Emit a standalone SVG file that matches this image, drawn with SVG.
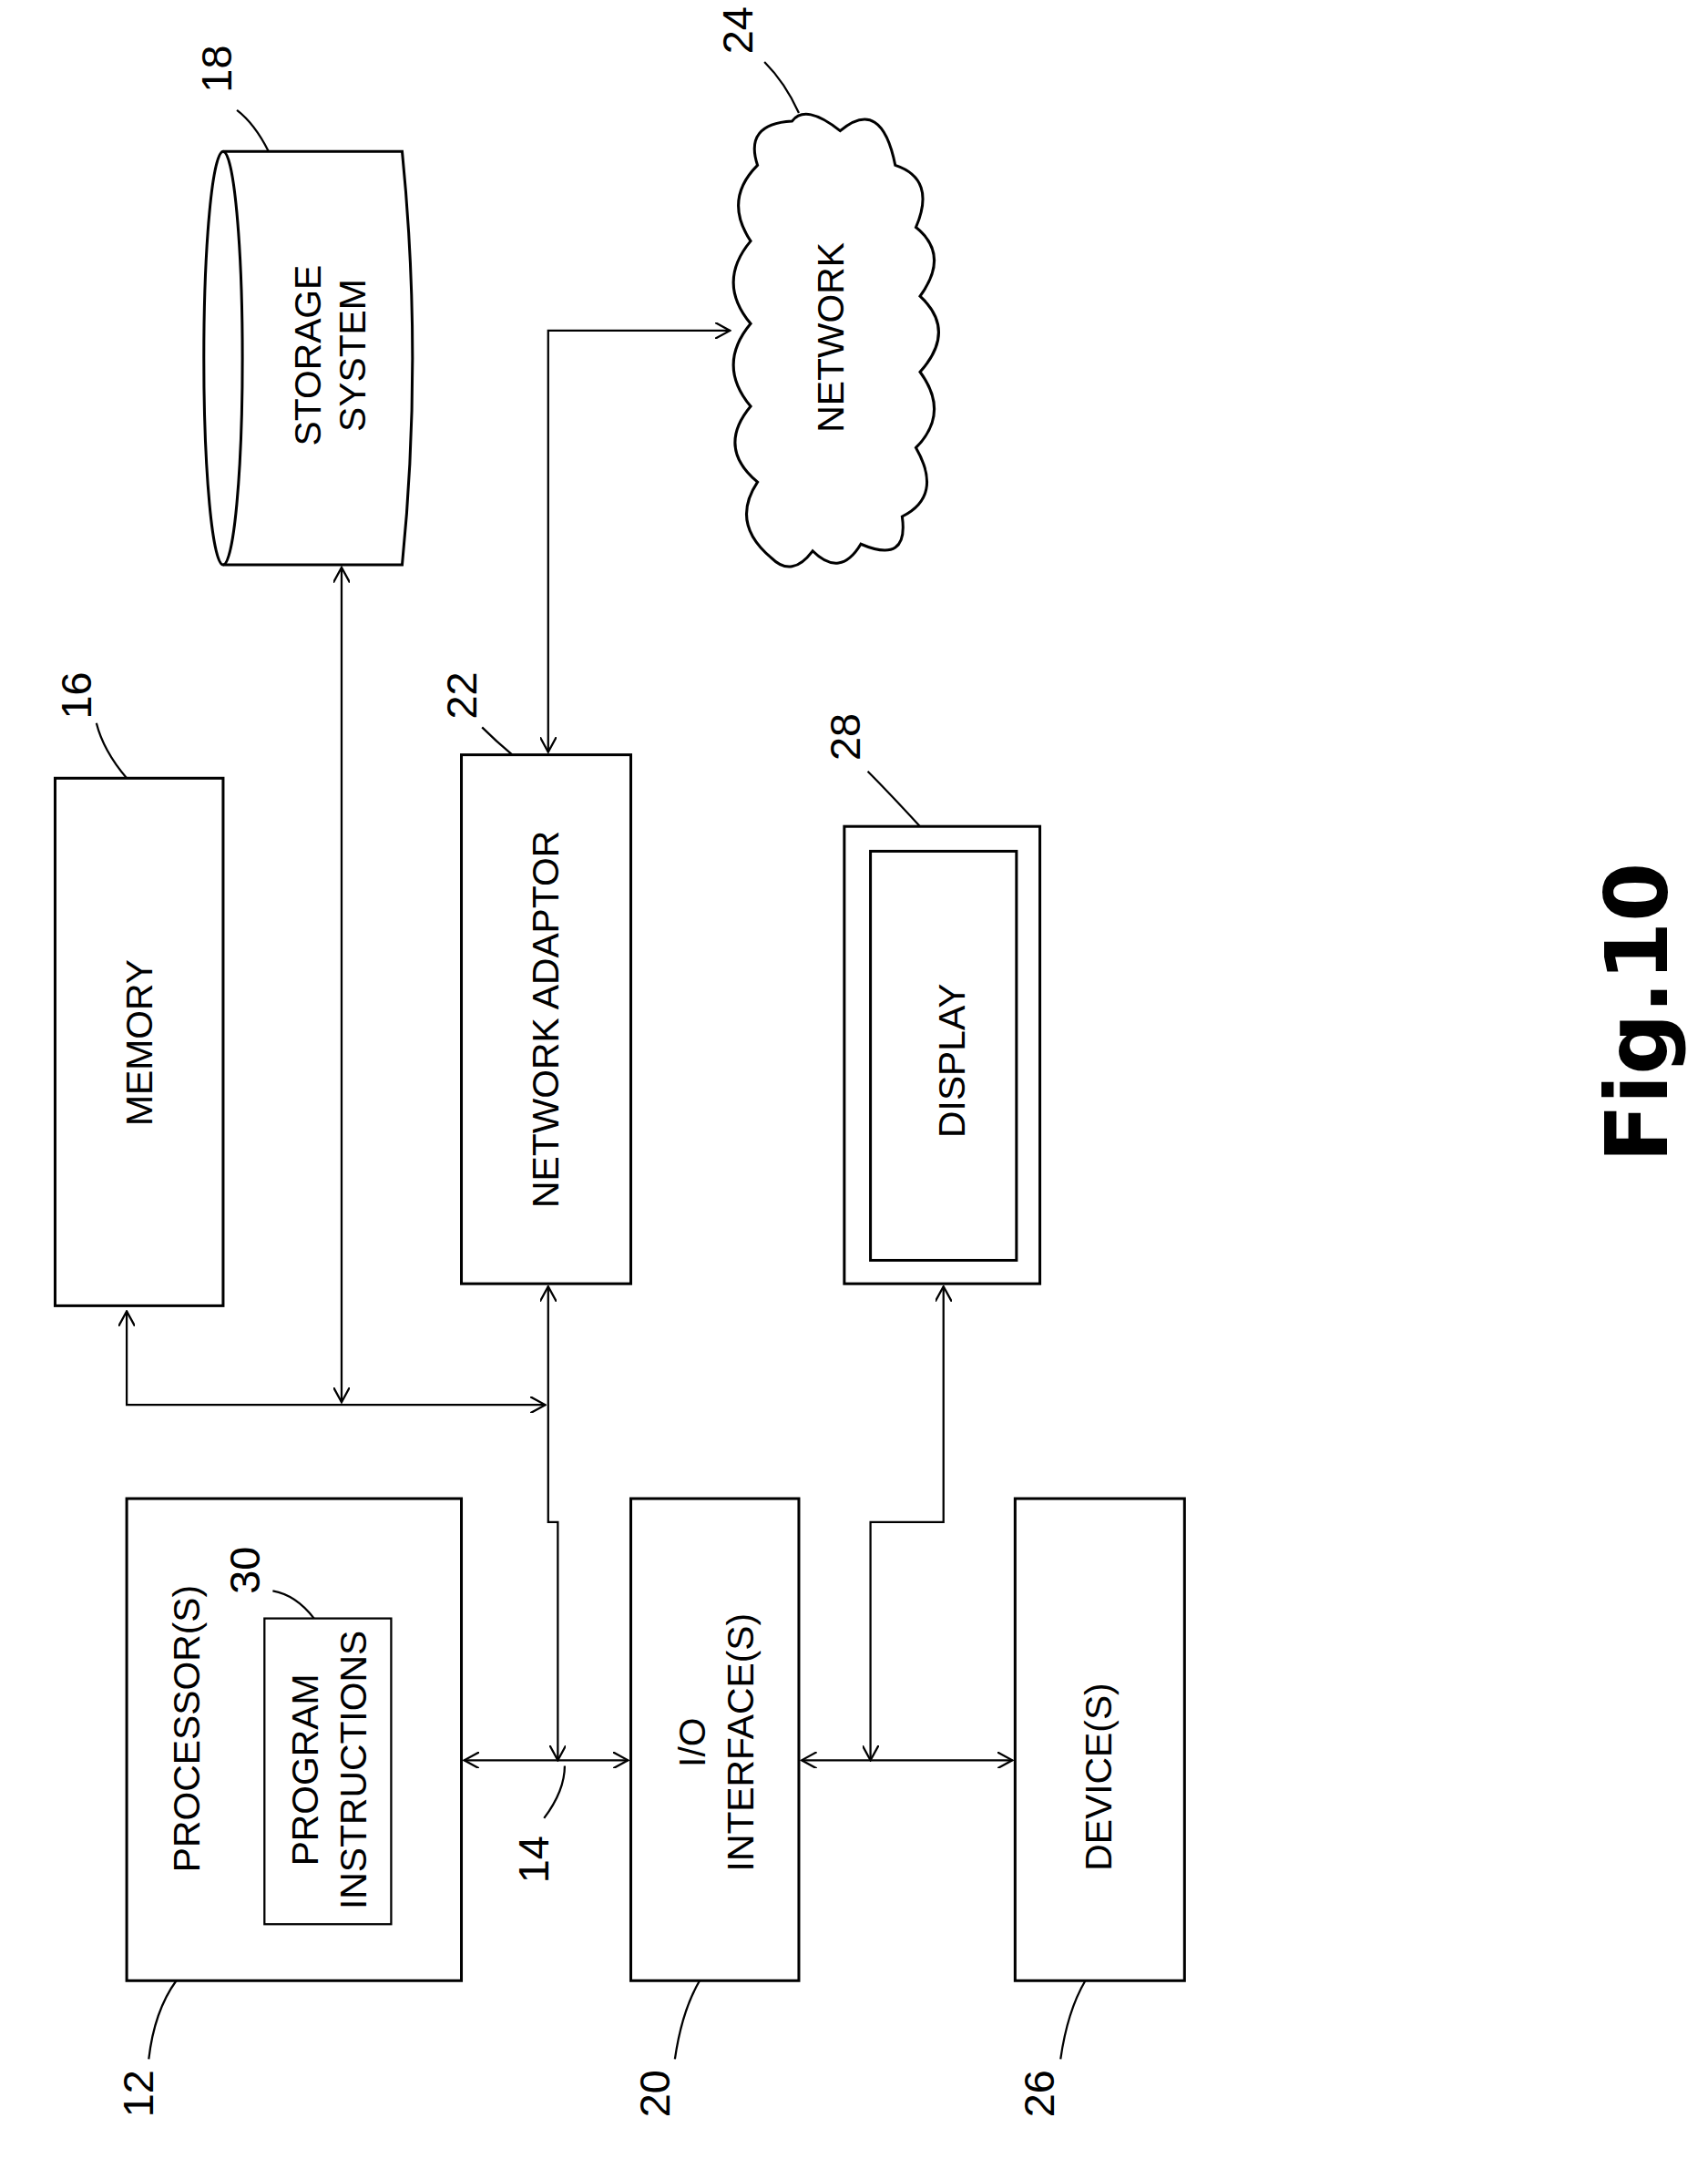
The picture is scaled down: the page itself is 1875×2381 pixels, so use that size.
<svg xmlns="http://www.w3.org/2000/svg" width="1875" height="2381" viewBox="0 0 1875 2381">
<style>
.b{fill:none;stroke:#000;stroke-width:2}
.c{fill:none;stroke:#000;stroke-width:1.5}
.t{font-family:"Liberation Sans",Arial,sans-serif;font-size:27px;text-anchor:middle;dominant-baseline:middle}
.n{font-family:"Liberation Sans",Arial,sans-serif;font-size:31px;text-anchor:middle;dominant-baseline:middle}
</style>
<defs>
<marker id="a" viewBox="0 0 12 12" refX="11" refY="6" markerWidth="12" markerHeight="12" markerUnits="userSpaceOnUse" orient="auto-start-reverse"><polyline points="0,0 11,6 0,12" fill="none" stroke="#000" stroke-width="1.5"/></marker>
</defs>
<rect width="1875" height="2381" fill="#fff"/>
<g transform="scale(1.512)">
<g id="memory"><rect class="b" x="40" y="565" width="122" height="383"/><text class="t" transform="translate(103,757) rotate(-90)">MEMORY</text><text class="n" transform="translate(58,505) rotate(-90)">16</text><path class="c" d="M70,525 Q75,545 92,565"/></g>
<g id="storage"><path class="b" d="M162,110 L292,110 Q307,260 292,410 L162,410"/><ellipse class="b" cx="162" cy="260" rx="14" ry="150"/><text class="t" transform="translate(226,258) rotate(-90)">STORAGE</text><text class="t" transform="translate(258,258) rotate(-90)">SYSTEM</text><text class="n" transform="translate(160,50) rotate(-90)">18</text><path class="c" d="M172,80 Q185,90 195,110"/></g>
<g id="network"><path class="b" d="M560,405 Q530,380 550,350 Q520,325 545,295 Q520,265 545,235 Q520,205 545,175 Q525,145 550,120 Q540,90 575,88 Q585,75 610,95 Q640,70 650,120 Q680,130 665,165 Q690,185 668,215 Q695,240 668,270 Q690,300 665,325 Q685,360 655,375 Q660,410 625,395 Q610,420 590,400 Q575,420 560,405 Z"/><text class="t" transform="translate(605,245) rotate(-90)">NETWORK</text><text class="n" transform="translate(538,22) rotate(-90)">24</text><path class="c" d="M555,45 Q570,60 580,82"/></g>
<g id="adaptor"><rect class="b" x="335" y="548" width="123" height="384"/><text class="t" transform="translate(398,740) rotate(-90)">NETWORK ADAPTOR</text><text class="n" transform="translate(338,505) rotate(-90)">22</text><path class="c" d="M350,528 Q360,538 372,548"/></g>
<g id="display"><rect class="b" x="613" y="600" width="142" height="332"/><rect class="b" x="632" y="618" width="106" height="297"/><text class="t" transform="translate(693,770) rotate(-90)">DISPLAY</text><text class="n" transform="translate(616,535) rotate(-90)">28</text><path class="c" d="M630,560 Q645,575 668,600"/></g>
<g id="processor"><rect class="b" x="92" y="1088" width="243" height="350"/><text class="t" transform="translate(138,1255) rotate(-90)">PROCESSOR(S)</text><text class="n" transform="translate(103,1520) rotate(-90)">12</text><path class="c" d="M108,1495 Q112,1460 128,1438"/></g>
<g id="program"><rect class="c" x="192" y="1175" width="92" height="222"/><text class="t" transform="translate(224,1285) rotate(-90)">PROGRAM</text><text class="t" transform="translate(259,1285) rotate(-90)">INSTRUCTIONS</text><text class="n" transform="translate(180,1140) rotate(-90)">30</text><path class="c" d="M198,1155 Q215,1158 228,1175"/></g>
<g id="io"><rect class="b" x="458" y="1088" width="122" height="350"/><text class="t" transform="translate(505,1265) rotate(-90)">I/O</text><text class="t" transform="translate(540,1265) rotate(-90)">INTERFACE(S)</text><text class="n" transform="translate(478,1520) rotate(-90)">20</text><path class="c" d="M490,1495 Q495,1460 508,1438"/></g>
<g id="device"><rect class="b" x="737" y="1088" width="123" height="350"/><text class="t" transform="translate(800,1290) rotate(-90)">DEVICE(S)</text><text class="n" transform="translate(757,1520) rotate(-90)">26</text><path class="c" d="M770,1495 Q775,1460 788,1438"/></g>
<g id="label14"><text class="n" transform="translate(390,1350) rotate(-90)">14</text><path class="c" d="M395,1320 Q410,1300 410,1282"/></g>
<g id="connectors">
<polyline class="c" points="92,952 92,1020 396,1020" marker-start="url(#a)" marker-end="url(#a)"/>
<line class="c" x1="248" y1="412" x2="248" y2="1018" marker-start="url(#a)" marker-end="url(#a)"/>
<polyline class="c" points="398,934 398,1105 405,1105 405,1278" marker-start="url(#a)" marker-end="url(#a)"/>
<polyline class="c" points="398,546 398,240 530,240" marker-start="url(#a)" marker-end="url(#a)"/>
<line class="c" x1="337" y1="1278" x2="456" y2="1278" marker-start="url(#a)" marker-end="url(#a)"/>
<line class="c" x1="582" y1="1278" x2="735" y2="1278" marker-start="url(#a)" marker-end="url(#a)"/>
<polyline class="c" points="685,934 685,1105 632,1105 632,1278" marker-start="url(#a)" marker-end="url(#a)"/>
</g>
<text transform="translate(1210,735) rotate(-90)" style="font-family:'DejaVu Sans',sans-serif;font-weight:bold;font-size:62px;text-anchor:middle">Fig.10</text>
</g>
</svg>
